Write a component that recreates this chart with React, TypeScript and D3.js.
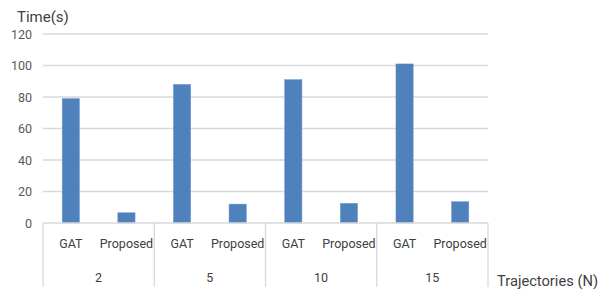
import React from "react";
import * as d3 from "d3";

const categories = ["2", "5", "10", "15"];
const methods = ["GAT", "Proposed"];
const gatValues = [79, 88, 91, 101];
const proposedValues = [6.5, 12, 12.5, 13.5];
const yTicks = [0, 20, 40, 60, 80, 100, 120];

const W = 601, H = 293;
const left = 43, right = 488, top = 34, bottom = 223;
const font = "Roboto, 'Liberation Sans', sans-serif";

export default function App() {
  const y = d3.scaleLinear().domain([0, 120]).range([bottom, top]);
  const xCat = d3.scaleBand().domain(categories).range([left, right]).padding(0);
  const xSub = d3.scaleBand().domain(methods).range([0, xCat.bandwidth()]).paddingInner(0.69).paddingOuter(0.345);
  const series = [gatValues, proposedValues];
  return (
    <svg width={W} height={H} style={{ position: "absolute", left: 0, top: 0 }}>
      <rect width={W} height={H} fill="#fff" />
      {yTicks.map(t => (
        <g key={t}>
          {t > 0 && <line x1={left} x2={right} y1={y(t)} y2={y(t)} stroke="#d9d9d9" strokeWidth={1.3} />}
          <text x={32} y={y(t)} dy="0.36em" textAnchor="end" fontFamily={font} fontSize={12.5} fill="#595959">{t}</text>
        </g>
      ))}
      <text x={17} y={22} fontFamily={font} fontSize={15} fill="#404040">Time(s)</text>
      {categories.map((c, ci) => (
        <g key={c} transform={`translate(${xCat(c)},0)`}>
          {methods.map((m, mi) => {
            const v = series[mi][ci];
            return (
              <g key={m}>
                <rect x={xSub(m)} y={y(v)} width={xSub.bandwidth()} height={y(0) - y(v)} fill="#4f81bd" stroke="#6f97cb" strokeWidth={0.5} />
                <text x={(xSub(m) as number) + xSub.bandwidth() / 2} y={248} textAnchor="middle" fontFamily={font} fontSize={12.5} fill="#404040">{m}</text>
              </g>
            );
          })}
          <text x={xCat.bandwidth() / 2} y={282} textAnchor="middle" fontFamily={font} fontSize={12.5} fill="#404040">{c}</text>
        </g>
      ))}
      <line x1={left} x2={right} y1={bottom} y2={bottom} stroke="#d9d9d9" strokeWidth={1.3} />
      {[...categories.map(c => xCat(c) as number), right].map((x, i) => (
        <line key={i} x1={x} x2={x} y1={bottom} y2={287} stroke="#d9d9d9" strokeWidth={1.3} />
      ))}
      <text x={497} y={286} fontFamily={font} fontSize={15} fill="#404040" textLength={101} lengthAdjust="spacingAndGlyphs">Trajectories (N)</text>
    </svg>
  );
}
